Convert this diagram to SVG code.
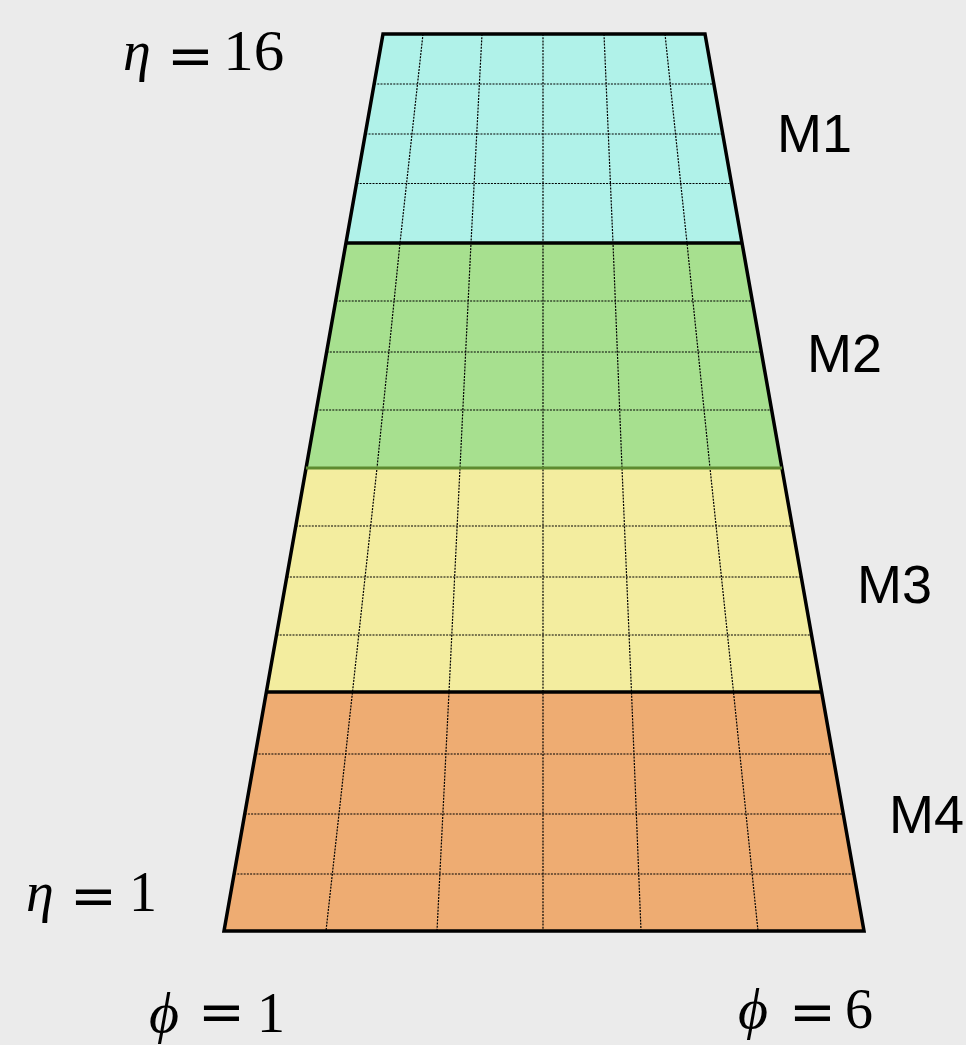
<svg xmlns="http://www.w3.org/2000/svg" width="966" height="1045" viewBox="0 0 966 1045">
<style>
.bg{fill:#ebebeb}
.grid{fill:none;stroke:#000;stroke-width:1.2;stroke-dasharray:2 1.2}
.edge{fill:none;stroke:#000;stroke-width:3.5;stroke-linejoin:miter}
.mlab{font-family:"Liberation Sans",Arial,sans-serif;font-size:54px;fill:#000}
.math{font-family:"Liberation Serif","DejaVu Serif",serif;font-size:56px;fill:#000}
.it{font-style:italic}
.phi{font-size:58px}
.eq{font-family:"DejaVu Sans","Liberation Sans",sans-serif;font-size:56px;fill:#000}
</style>
<rect class="bg" x="0" y="0" width="966" height="1045"/>
<g id="M1">
<polygon points="383,34 705,34 742,243 346,243" fill="#b0f2e9"/>
<text class="mlab" x="777" y="152">M1</text>
</g>
<g id="M2">
<polygon points="346,243 742,243 782,468 306,468" fill="#a7e08f"/>
<text class="mlab" x="807" y="372">M2</text>
</g>
<g id="M3">
<polygon points="306,468 782,468 821.6,692 266.4,692" fill="#f3ed9f"/>
<text class="mlab" x="857" y="603">M3</text>
</g>
<g id="M4">
<polygon points="266.4,692 821.6,692 864,931 224,931" fill="#eeac72"/>
<text class="mlab" x="889" y="833">M4</text>
</g>
<g id="connectors">
<g id="grid">
<line class="grid" x1="374.1" y1="84" x2="713.9" y2="84"/>
<line class="grid" x1="365.3" y1="134" x2="722.7" y2="134"/>
<line class="grid" x1="356.5" y1="183.5" x2="731.5" y2="183.5"/>
<line class="grid" x1="335.7" y1="301" x2="752.3" y2="301"/>
<line class="grid" x1="326.6" y1="352" x2="761.4" y2="352"/>
<line class="grid" x1="316.3" y1="410" x2="771.7" y2="410"/>
<line class="grid" x1="295.8" y1="526" x2="792.2" y2="526"/>
<line class="grid" x1="286.7" y1="577" x2="801.3" y2="577"/>
<line class="grid" x1="276.5" y1="635" x2="811.5" y2="635"/>
<line class="grid" x1="255.4" y1="754" x2="832.6" y2="754"/>
<line class="grid" x1="244.7" y1="814" x2="843.3" y2="814"/>
<line class="grid" x1="234.1" y1="874" x2="853.9" y2="874"/>
<polyline class="grid" points="423,34 400,243 377,468 352.5,692 326,931"/>
<polyline class="grid" points="482,34 471,243 460,468 449,692 437,931"/>
<polyline class="grid" points="543,34 543,931"/>
<polyline class="grid" points="604,34 613,243 622,468 631.5,692 641,931"/>
<polyline class="grid" points="665,34 687,243 710,468 733.5,692 758,931"/>
</g>
<g id="outline">
<polygon class="edge" points="383,34 705,34 864,931 224,931"/>
<line class="edge" x1="346" y1="243" x2="742" y2="243"/>
<line x1="306" y1="468" x2="782" y2="468" stroke="#5e8b30" stroke-width="3"/>
<line class="edge" x1="266.4" y1="692" x2="821.6" y2="692"/>
</g>
</g>
<g id="label-eta16">
<text class="math it" x="123" y="69.5">η</text>
<text class="eq" x="167" y="75">=</text>
<text class="math" x="223.3" y="69.5" font-size="50" textLength="61" lengthAdjust="spacingAndGlyphs">16</text>
</g>
<g id="label-eta1">
<text class="math it" x="26" y="910.5">η</text>
<text class="eq" x="70" y="915">=</text>
<text class="math" x="129" y="910.5">1</text>
</g>
<g id="label-phi1">
<text class="math it phi" x="149" y="1032">ϕ</text>
<text class="eq" x="198" y="1031">=</text>
<text class="math" x="257" y="1032">1</text>
</g>
<g id="label-phi6">
<text class="math it phi" x="738" y="1028">ϕ</text>
<text class="eq" x="789" y="1031">=</text>
<text class="math" x="845" y="1028">6</text>
</g>
</svg>
